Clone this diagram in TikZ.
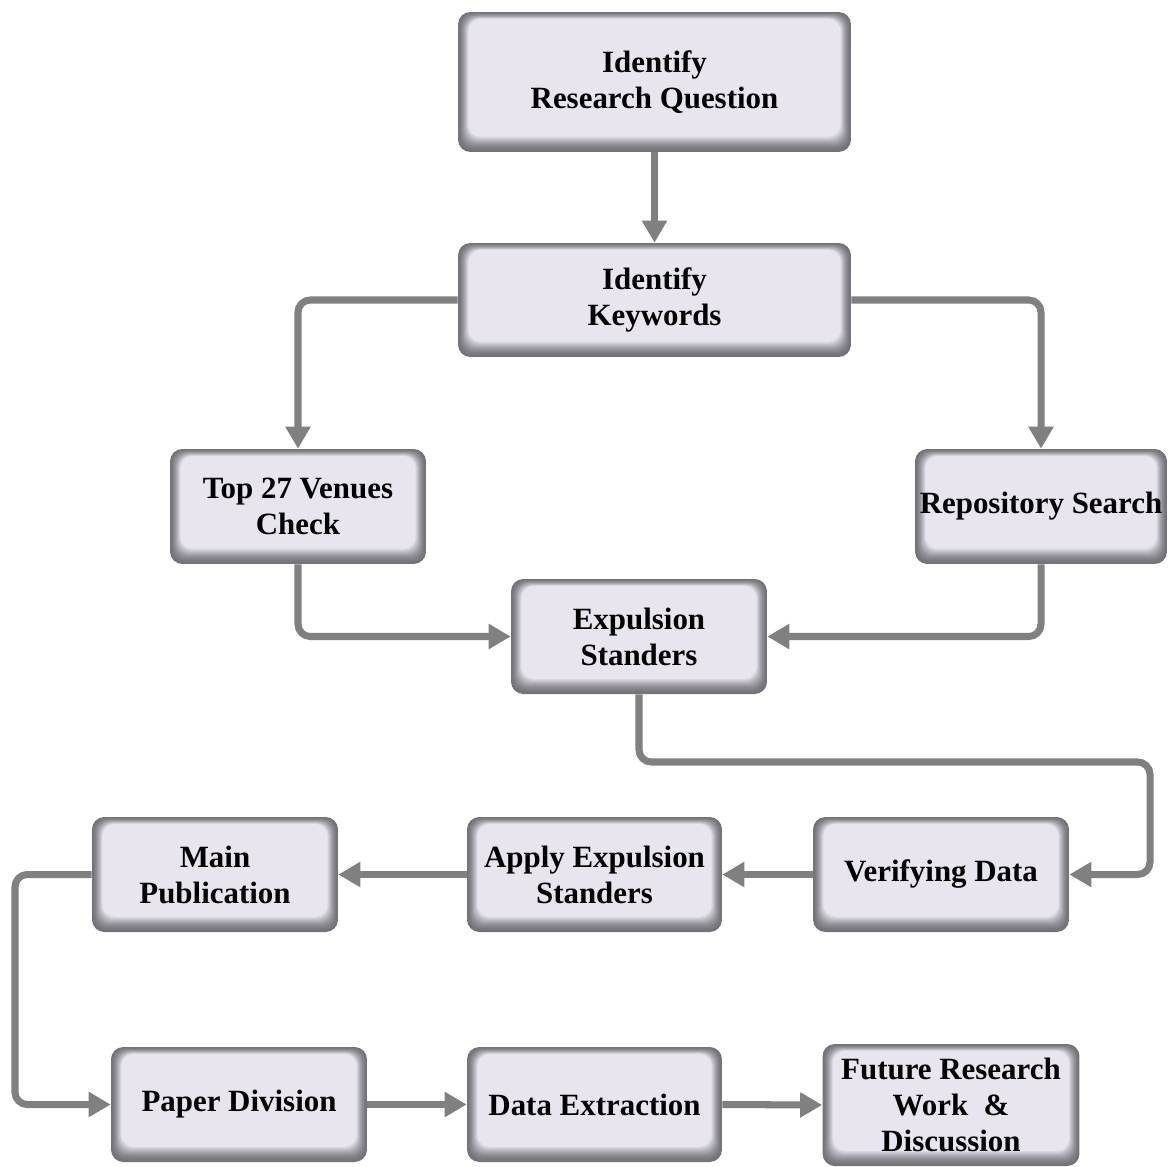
\documentclass[tikz,border=0pt]{standalone}
\usepackage{fontspec}
\setmainfont{Liberation Serif}
\usetikzlibrary{arrows.meta}
\definecolor{boxfill}{HTML}{E9E5EF}
\definecolor{boxedge}{HTML}{737278}
\definecolor{linkgray}{HTML}{808080}
\tikzset{
  stepbox/.style={
    rounded corners=7pt, align=center, inner sep=1pt,
    font=\fontsize{17.6}{20.5}\selectfont\bfseries,
    fill=boxedge,
    path picture={
      % soft inner shading: thin at the top, wider at the sides and bottom
      \foreach \k in {1,...,14}{
        \pgfmathsetmacro{\mixv}{100*(\k/14)^1.6}
        \fill[boxfill!\mixv!boxedge, rounded corners=7pt]
          ([shift={(\k*0.42pt,\k*0.62pt)}]path picture bounding box.south west)
          rectangle
          ([shift={(-\k*0.42pt,-\k*0.28pt)}]path picture bounding box.north east);
      }
    }
  },
  conn/.style={draw=linkgray, line width=4pt, rounded corners=7pt,
    -{Triangle[length=0.44cm,width=0.48cm]}}
}
\begin{document}
\begin{tikzpicture}[x=0.02cm,y=-0.02cm]
\useasboundingbox (0,0) rectangle (1168,1166);

% process boxes
\node[stepbox, minimum width=7.86cm, minimum height=2.8cm]  (rq)    at (654.5,82)    {Identify\\Research Question};
\node[stepbox, minimum width=7.86cm, minimum height=2.28cm] (kw)    at (654.5,300)   {Identify\\Keywords};
\node[stepbox, minimum width=5.12cm, minimum height=2.3cm]  (top)   at (298,506.5)   {Top 27 Venues\\Check};
\node[stepbox, minimum width=5.04cm, minimum height=2.3cm]  (rep)   at (1041,506.5)  {Repository Search};
\node[stepbox, minimum width=5.12cm, minimum height=2.3cm]  (exp)   at (639,636.5)   {Expulsion\\Standers};
\node[stepbox, minimum width=4.92cm, minimum height=2.3cm]  (main)  at (215,874.5)   {Main\\Publication};
\node[stepbox, minimum width=5.1cm,  minimum height=2.3cm]  (apply) at (594.5,874.5) {Apply Expulsion\\Standers};
\node[stepbox, minimum width=5.12cm, minimum height=2.3cm]  (ver)   at (941,874.5)   {Verifying Data};
\node[stepbox, minimum width=5.12cm, minimum height=2.3cm]  (paper) at (239,1104.5)  {Paper Division};
\node[stepbox, minimum width=5.1cm,  minimum height=2.3cm]  (data)  at (594.5,1104.5){Data Extraction};
\node[stepbox, minimum width=5.14cm, minimum height=2.44cm] (fut)   at (951,1105)    {Future Research\\Work~~\&\\Discussion};

% routing points
\coordinate (r1) at (1150,762);
\coordinate (l1) at (15,990);

% connectors
\draw[conn] (rq.south) -- (kw.north);
\draw[conn] (kw.west) -| (top.north);
\draw[conn] (kw.east) -| (rep.north);
\draw[conn] (top.south) |- (exp.west);
\draw[conn] (rep.south) |- (exp.east);
\draw[conn] (exp.south) |- (r1) |- (ver.east);
\draw[conn] (ver.west) -- (apply.east);
\draw[conn] (apply.west) -- (main.east);
\draw[conn] (main.west) -| (l1) |- (paper.west);
\draw[conn] (paper.east) -- (data.west);
\draw[conn] (data.east) -- (fut.west);
\end{tikzpicture}
\end{document}
